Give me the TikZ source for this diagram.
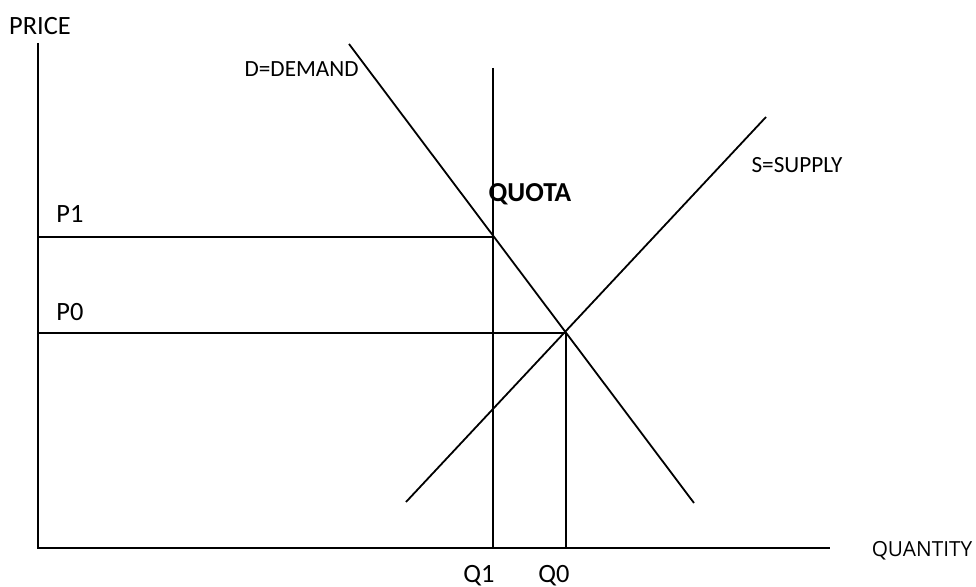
\documentclass[tikz,border=0pt]{standalone}
\usepackage{fontspec}
\setmainfont{Carlito}
\newfontfamily\axisfont{Open Sans}
\usepackage{tikz}
\usetikzlibrary{positioning,calc}

\begin{document}
\begin{tikzpicture}[
    x=0.5pt,y=-0.5pt,
    every node/.style={font=\fontsize{13.2}{15}\selectfont,inner sep=0pt},
    curvelabel/.style={font=\fontsize{11.6}{14}\selectfont},
    curve/.style={line width=0.9pt,black},
    guide/.style={line width=0.9pt,black}
  ]
    \useasboundingbox (0,0) rectangle (976,587);
    % axes
    \coordinate (O) at (38,548);
    \coordinate (ytop) at (38,43);
    \coordinate (xend) at (830,548);
    \draw[guide] (ytop) -- (O) -- (xend);
    \node (price) at (40,26) {PRICE};
    \node[font=\axisfont\fontsize{10.4}{13}\selectfont] (quantity) at (922,551) {QUANTITY};
    % demand and supply
    \coordinate (dtop) at (349,44);
    \coordinate (dbot) at (694,503);
    \coordinate (sbot) at (406,502);
    \coordinate (stop) at (766,117);
    \draw[curve] (dtop) -- (dbot);
    \draw[curve] (sbot) -- (stop);
    \node[curvelabel,anchor=east] (dlabel) at (359,69) {D=DEMAND};
    \node[curvelabel] (slabel) at (797,165) {S=SUPPLY};
    % quota
    \coordinate (qtop) at (493,68);
    \coordinate (q1foot) at (493,548);
    \coordinate (e1) at (493,237);
    \coordinate (e0) at (566,333);
    \coordinate (q0foot) at (566,548);
    \draw[guide] (qtop) -- (q1foot);
    \node[font=\fontsize{13.7}{16}\selectfont\bfseries] (quota) at (530,194) {QUOTA};
    % prices and quantities
    \draw[guide] (O |- e1) -- (e1);
    \draw[guide] (O |- e0) -- (e0) -- (q0foot);
    \node (p1) at (70,214) {P1};
    \node (p0) at (70,312) {P0};
    \node[anchor=base] (q1) at (479,583) {Q1};
    \node[anchor=base] (q0) at (554,583) {Q0};
\end{tikzpicture}
\end{document}
